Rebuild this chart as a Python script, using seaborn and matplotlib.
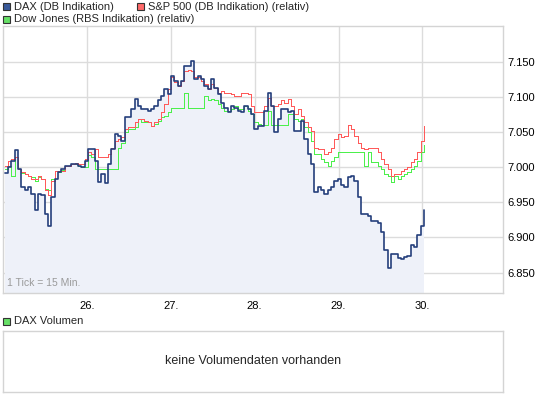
import numpy as np
import pandas as pd
import matplotlib
matplotlib.use("Agg")
import matplotlib.pyplot as plt
from matplotlib.patches import Rectangle
from matplotlib.ticker import FuncFormatter
import seaborn as sns

# --- data (15-min ticks, day of month on x) ---
dax = [6992, 7000, 7009, 7025, 6998, 6972, 6967, 6972, 6962, 6939,
       6962, 6960, 6934, 6917, 6957, 6983, 6993, 6998, 7002, 7002,
       7005, 7004, 7002, 7000, 7009, 7026, 7026, 7009, 6979, 6991,
       6977, 7005, 7026, 7047, 7045, 7038, 7071, 7071, 7083, 7097,
       7087, 7083, 7083, 7080, 7083, 7087, 7095, 7102, 7111, 7104,
       7130, 7123, 7116, 7123, 7144, 7144, 7151, 7125, 7130, 7125,
       7116, 7111, 7125, 7113, 7104, 7092, 7085, 7078, 7087, 7085,
       7080, 7078, 7087, 7083, 7076, 7054, 7059, 7059, 7080, 7106,
       7087, 7050, 7069, 7083, 7083, 7078, 7080, 7052, 7052, 7066,
       7040, 7019, 7005, 6965, 6972, 6967, 6962, 6967, 6972, 6981,
       6983, 6974, 6972, 6986, 6988, 6981, 6957, 6934, 6934, 6931,
       6924, 6924, 6920, 6908, 6882, 6856, 6876, 6877, 6871, 6870,
       6872, 6873, 6889, 6887, 6903, 6917, 6939]

sp500_rel = [7002, 7009, 7012, 7014, 6998, 6993, 6990, 6988, 6983, 6983,
             6988, 6983, 6967, 6960, 6981, 6995, 6995, 6995, 7002, 7002,
             7005, 7006, 7004, 7005, 7012, 7021, 7019, 7026, 7014, 7014,
             7015, 7019, 7028, 7038, 7040, 7043, 7054, 7057, 7057, 7064,
             7069, 7069, 7066, 7064, 7059, 7064, 7069, 7078, 7090, 7111,
             7128, 7122, 7116, 7123, 7137, 7139, 7137, 7128, 7128, 7123,
             7118, 7111, 7118, 7113, 7106, 7109, 7105, 7106, 7104, 7102,
             7102, 7106, 7106, 7104, 7087, 7078, 7078, 7078, 7087, 7099,
             7087, 7087, 7090, 7095, 7092, 7097, 7087, 7076, 7083, 7073,
             7064, 7057, 7052, 7028, 7026, 7026, 7019, 7021, 7028, 7040,
             7047, 7043, 7045, 7060, 7055, 7045, 7035, 7028, 7026, 7028,
             7028, 7028, 7021, 7012, 7005, 6998, 6988, 6991, 6991, 6995,
             6998, 7000, 7007, 7012, 7021, 7038, 7059]

dow_rel = [6998, 7002, 6988, 7014, 6998, 6992, 6991, 6988, 6986, 6981,
           6986, 6983, 6969, 6967, 6983, 6995, 6993, 6996, 7002, 7002,
           7005, 7005, 7002, 7000, 7000, 7017, 7014, 6998, 6998, 6998,
           6998, 6998, 6998, 6998, 7028, 7035, 7050, 7054, 7054, 7057,
           7069, 7064, 7064, 7064, 7059, 7061, 7066, 7071, 7073, 7078,
           7084, 7084, 7084, 7084, 7106, 7085, 7084, 7084, 7084, 7084,
           7102, 7095, 7097, 7095, 7090, 7085, 7080, 7080, 7083, 7087,
           7083, 7083, 7087, 7080, 7076, 7064, 7061, 7060, 7060, 7080,
           7060, 7060, 7060, 7060, 7060, 7076, 7076, 7069, 7066, 7069,
           7057, 7050, 7038, 7019, 7019, 7012, 7007, 7002, 7009, 7014,
           7021, 7021, 7021, 7021, 7021, 7021, 7021, 7021, 7002, 7021,
           7007, 7007, 7002, 6998, 6991, 6988, 6979, 6988, 6983, 6988,
           6991, 6993, 6998, 7002, 7009, 7021, 7032]

day_ticks = [26, 27, 28, 29, 30]
price_ticks = [6850, 6900, 6950, 7000, 7050, 7100, 7150]
t = np.linspace(25.02, 30.02, len(dax))

df = pd.DataFrame({"t": t, "DAX": dax, "SP": sp500_rel, "DOW": dow_rel})

W, H = 545, 398
def fx(x):
    return x / W
def fy(y):
    return 1 - y / H

sns.set_style("white")
plt.rcParams["font.family"] = ["Liberation Sans", "DejaVu Sans"]

fig = plt.figure(figsize=(W / 100, H / 100), dpi=100)

grid_c = "#dcdcdc"
blue = "#253f7c"
red = "#ff5a5a"
green = "#4cf04c"
fill_c = "#eef1f9"

# main price panel
ax = fig.add_axes([fx(3), fy(293), fx(500), 267 / H])
ymin, ymax = 6821, 7201
ax.fill_between(df["t"], df["DAX"], ymin, color=fill_c, lw=0, zorder=1, step="post")
thin = dict(drawstyle="steps-post", antialiased=False, lw=0.72)
sns.lineplot(data=df, x="t", y="DOW", ax=ax, color=green, zorder=3, **thin)
sns.lineplot(data=df, x="t", y="SP", ax=ax, color=red, zorder=4, **thin)
sns.lineplot(data=df, x="t", y="DAX", ax=ax, color=blue, lw=1.2, zorder=5,
             drawstyle="steps-post")

ax.set_xlim(25.0, 30.96)
ax.set_ylim(ymin, ymax)
ax.set_xticks(day_ticks)
ax.set_xticklabels([f"{d}." for d in day_ticks])
ax.set_yticks(price_ticks)
ax.yaxis.set_major_formatter(FuncFormatter(lambda v, p: f"{v:,.0f}".replace(",", ".")))
ax.yaxis.tick_right()
ax.tick_params(axis="both", length=0, labelsize=8, colors="#000000")
ax.tick_params(axis="x", pad=6)
ax.tick_params(axis="y", pad=3)
ax.set_xlabel("")
ax.set_ylabel("")
ax.grid(True, color=grid_c, lw=1.0, zorder=0)
ax.set_axisbelow(True)
for s in ax.spines.values():
    s.set_color("#d4d4d4")
    s.set_linewidth(1.0)
ax.text(0.008, 0.02, "1 Tick = 15 Min.", transform=ax.transAxes,
        fontsize=7.5, color="#9a9a9a", ha="left", va="bottom", zorder=6)

# legend squares + labels
def legend_item(x, y, color, label):
    fig.patches.append(Rectangle((fx(x), fy(y + 7)), 7 / W, 7 / H,
                                 transform=fig.transFigure, facecolor=color,
                                 edgecolor="#333333", lw=0.8))
    fig.text(fx(x + 11), fy(y + 3.5), label, fontsize=8, va="center", ha="left")

legend_item(3, 3, "#3a5a9a", "DAX (DB Indikation)")
legend_item(137, 3, "#ff6a6a", "S&P 500 (DB Indikation) (relativ)")
legend_item(3, 16, "#66e066", "Dow Jones (RBS Indikation) (relativ)")
legend_item(3, 318, "#66e066", "DAX Volumen")

# volume panel (empty)
vax = fig.add_axes([fx(3), fy(392), fx(500), 61 / H])
vax.set_xticks([])
vax.set_yticks([])
for s in vax.spines.values():
    s.set_color("#d4d4d4")
    s.set_linewidth(1.0)
vax.text(0.5, 0.5, "keine Volumendaten vorhanden", transform=vax.transAxes,
         ha="center", va="center", fontsize=9)

fig.savefig("out.png", dpi=100)
